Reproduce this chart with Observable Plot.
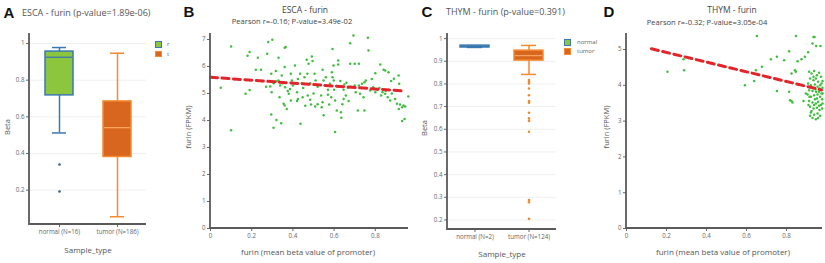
<!DOCTYPE html>
<html><head><meta charset="utf-8">
<script src="https://cdn.jsdelivr.net/npm/d3@7"></script>
<script src="https://cdn.jsdelivr.net/npm/@observablehq/plot@0.6"></script>
<style>
body{margin:0;background:#fff;}
#wrap{position:relative;width:825px;height:263px;overflow:hidden;font-family:"Open Sans",sans-serif;background:#fff;}
#wrap svg{position:absolute;top:0;}
.t{position:absolute;white-space:nowrap;line-height:1;color:#444;}
.sq{position:absolute;box-sizing:border-box;}
</style></head><body><div id="wrap"></div>
<script>
// ---------- Panel A: ESCA box plot ----------
const catsA = ["normal (N=16)", "tumor (N=186)"];
const q1A  = [0.717, 0.381];
const medA = [0.925, 0.541];
const q3A  = [0.956, 0.684];
const loA  = [0.512, 0.055];
const hiA  = [0.978, 0.947];
const outNormalA = [0.34, 0.193];
const outTumorA = [];
const ticksA = [0.2, 0.4, 0.6, 0.8, 1];

// ---------- Panel C: THYM box plot ----------
const catsC = ["normal (N=2)", "tumor (N=124)"];
const q1C  = [0.961, 0.903];
const medC = [0.965, 0.925];
const q3C  = [0.969, 0.947];
const loC  = [0.961, 0.842];
const hiC  = [0.969, 0.970];
const outNormalC = [];
const outTumorC = [0.817, 0.81, 0.802, 0.78, 0.75, 0.725, 0.717, 0.673, 0.648, 0.637, 0.589, 0.288, 0.278, 0.205];
const ticksC = [0.2, 0.3, 0.4, 0.5, 0.6, 0.7, 0.8, 0.9, 1];

// ---------- Panel B: ESCA scatter ----------
const bx = [0.10,0.05,0.17,0.19,0.18,0.19,0.10,0.23,0.22,0.245,0.28,0.30,0.275,0.33,0.36,0.365,0.295,0.317,0.307,0.29,0.297,0.33,0.338,0.35,0.36,0.346,0.362,0.375,0.38,0.386,0.335,0.355,0.37,0.36,0.295,0.32,0.343,0.306,0.39,0.395,
0.41,0.414,0.424,0.435,0.443,0.456,0.467,0.476,0.492,0.495,0.47,0.484,0.505,0.51,0.424,0.447,0.42,0.472,0.484,0.488,0.508,0.437,0.39,0.544,0.549,0.553,0.537,0.544,0.54,0.549,
0.592,0.589,0.597,0.592,0.598,0.58,0.57,0.60,0.586,0.605,0.613,0.576,0.62,0.62,0.63,0.635,0.646,0.65,0.667,0.657,0.646,0.67,0.635,0.605,0.678,0.678,0.70,0.72,0.70,0.705,
0.735,0.747,0.754,0.726,0.743,0.715,0.747,0.764,0.767,0.694,0.783,0.79,0.775,0.80,0.797,0.81,0.824,0.84,0.848,0.864,0.835,0.848,0.86,0.872,0.828,0.877,0.896,0.913,0.916,0.92,
0.93,0.937,0.945,0.96,0.942,0.93,0.905,0.633,0.914,0.32,0.40,0.45,0.52,0.56,0.61,0.66,0.68,0.72,0.76,0.80,0.82,0.85,0.88,0.25,0.27,0.42,0.50,0.57,0.64,0.52,0.46,0.89];
const by = [6.74,5.21,4.99,5.13,6.40,6.54,3.64,6.32,5.88,5.88,6.91,6.99,6.47,6.32,6.69,6.72,5.73,5.83,5.38,5.26,5.05,5.48,5.30,5.38,5.98,5.67,5.23,5.09,4.99,5.17,4.86,4.62,4.43,4.56,4.22,4.02,3.90,3.73,5.73,5.48,
6.04,5.36,5.54,5.73,5.38,5.60,6.25,6.10,6.37,6.20,5.73,5.38,5.73,5.48,4.80,4.86,4.72,4.93,4.77,4.59,4.52,3.88,4.74,5.88,5.48,5.30,4.93,4.68,4.49,4.19,
6.65,5.79,6.04,5.60,5.48,5.36,5.14,5.14,4.86,4.74,4.37,4.59,6.22,6.07,5.46,5.26,5.14,5.33,5.21,4.93,4.80,4.72,4.10,3.57,6.86,6.10,6.10,6.10,5.30,5.05,
5.36,5.42,5.48,4.99,4.86,4.37,4.37,7.06,6.59,7.15,5.54,5.23,5.11,5.75,5.17,5.14,6.07,5.88,5.85,5.79,5.05,4.99,4.86,4.74,4.93,5.46,4.80,5.67,5.36,4.59,
4.49,4.56,4.52,4.89,4.06,3.98,4.62,4.31,4.43,5.45,5.30,5.20,5.25,5.60,5.28,5.40,5.25,5.30,5.20,5.05,5.20,5.10,5.00,5.45,5.25,5.05,5.00,4.95,4.60,4.60,4.55,5.55];
const regBx = [0, 0.945];
const regBy = [5.60, 5.09];

// ---------- Panel D: THYM scatter ----------
const dx = [0.205,0.285,0.288,0.652,0.847,0.935,0.94,0.93,0.948,0.97,0.813,0.722,0.752,0.788,0.677,0.647,0.638,0.592,0.855,0.875,0.892,0.908,0.825,0.842,0.847,0.752,0.813,0.818,0.83,0.825,0.885,0.897,
0.913,0.925,0.938,0.952,0.963,0.972,0.918,0.935,0.947,0.958,0.98,0.908,0.922,0.942,0.955,0.968,0.98,0.913,0.93,0.945,0.962,0.975,0.905,0.922,0.938,0.952,0.968,0.978,
0.913,0.93,0.947,0.958,0.972,0.918,0.935,0.952,0.965,0.978,0.922,0.938,0.955,0.968,0.93,0.947,0.918,0.958,0.938,0.927,0.965,0.955,0.942,0.91,0.98,0.935,0.975,0.948,0.925,0.963,0.98,0.915];
const dy = [4.38,4.73,4.42,5.38,5.38,5.35,5.35,5.17,5.10,5.10,4.95,4.73,4.80,4.70,4.52,4.42,4.12,4.00,4.67,4.73,4.80,4.92,4.33,4.42,4.38,3.84,3.82,3.58,3.52,3.56,3.56,3.77,
4.38,4.33,4.40,4.28,4.35,4.24,4.19,4.14,4.19,4.10,4.12,4.05,4.00,4.02,3.96,4.00,3.93,3.86,3.84,3.89,3.82,3.77,3.74,3.68,3.72,3.63,3.68,3.61,
3.56,3.52,3.49,3.54,3.45,3.40,3.35,3.37,3.31,3.35,3.24,3.18,3.21,3.15,3.09,3.05,3.15,3.09,3.45,3.93,3.91,3.74,3.61,3.45,3.49,4.24,4.05,3.82,3.28,3.43,3.77,3.68];
const regDx = [0.125, 0.975];
const regDy = [5.02, 3.87];

// ---------- styles ----------
const NORMAL = {fill: "#8cc63e", stroke: "#3a78b2", med: "#3a78b2", out: "#2f5f8e"};
const TUMOR  = {fill: "#d9661f", stroke: "#f58a2e", med: "#f7a35c", out: "#ef8a2c"};
const AXIS = "#5a5a5a";
const baseStyle = {fontFamily: "'Open Sans', sans-serif", fontSize: "6.2px", color: "#666", background: "transparent", overflow: "visible"};

const axisLines = (...args) => {
  const dims = args.find(a => a && typeof a === "object" && !ArrayBuffer.isView(a) && "marginLeft" in a && "width" in a);
  const {marginLeft: l, marginTop: t, marginRight: r, marginBottom: b, width: w, height: h} = dims;
  const p = document.createElementNS("http://www.w3.org/2000/svg", "path");
  p.setAttribute("d", `M${l},${t}V${h - b}H${w - r}`);
  p.setAttribute("fill", "none");
  p.setAttribute("stroke", AXIS);
  p.setAttribute("stroke-width", 1.8);
  return p;
};

function boxPanel(cfg) {
  const rows = cfg.cats.map((c, i) => ({cat: c, q1: cfg.q1[i], med: cfg.med[i], q3: cfg.q3[i], lo: cfg.lo[i], hi: cfg.hi[i], sty: i === 0 ? NORMAL : TUMOR}));
  const outs = cfg.outN.map(v => ({cat: cfg.cats[0], v, c: NORMAL.out})).concat(cfg.outT.map(v => ({cat: cfg.cats[1], v, c: TUMOR.out})));
  const svg = Plot.plot({
    width: cfg.width, height: 263,
    marginLeft: cfg.mL, marginRight: cfg.mR, marginTop: cfg.mT, marginBottom: cfg.mB,
    style: baseStyle,
    color: {type: "identity"},
    x: {type: "band", domain: cfg.cats, paddingInner: cfg.pi, paddingOuter: cfg.po, tickSize: 3, tickPadding: 2, label: null},
    y: {domain: cfg.ydom, ticks: cfg.ticks, tickFormat: d => String(d), grid: true, tickSize: 3, tickPadding: 2, label: null},
    marks: [
      Plot.ruleX(rows, {x: "cat", y1: "lo", y2: "hi", stroke: d => d.sty.stroke, strokeWidth: 1.5}),
      Plot.tickY(rows, {x: "cat", y: "lo", stroke: d => d.sty.stroke, strokeWidth: 1.5, inset: 7}),
      Plot.tickY(rows, {x: "cat", y: "hi", stroke: d => d.sty.stroke, strokeWidth: 1.5, inset: 7}),
      Plot.barY(rows, {x: "cat", y1: "q1", y2: "q3", fill: d => d.sty.fill, stroke: d => d.sty.stroke, strokeWidth: 1.5}),
      Plot.tickY(rows, {x: "cat", y: "med", stroke: d => d.sty.med, strokeWidth: 1.3, inset: 0.8}),
      Plot.dot(outs, {x: "cat", y: "v", r: 1.3, fill: "c", stroke: null}),
      axisLines
    ]
  });
  svg.style.left = cfg.left + "px";
  return svg;
}

function scatterPanel(cfg) {
  const pts = cfg.xs.map((x, i) => ({x, y: cfg.ys[i]}));
  const reg = cfg.rx.map((x, i) => ({x, y: cfg.ry[i]}));
  const svg = Plot.plot({
    width: cfg.width, height: 263,
    marginLeft: cfg.mL, marginRight: cfg.mR, marginTop: cfg.mT, marginBottom: cfg.mB,
    style: baseStyle,
    x: {domain: cfg.xdom, ticks: [0, 0.2, 0.4, 0.6, 0.8], tickFormat: d => String(d), tickSize: 3, tickPadding: 2, label: null},
    y: {domain: cfg.ydom, ticks: cfg.yticks, tickFormat: d => String(d), tickSize: 3, tickPadding: 2, label: null},
    marks: [
      Plot.dot(pts, {x: "x", y: "y", r: 1.25, fill: "#3dbf3d", stroke: null}),
      Plot.line(reg, {x: "x", y: "y", stroke: "#e2252b", strokeWidth: 3, strokeDasharray: "7,4.5"}),
      axisLines
    ]
  });
  svg.style.left = cfg.left + "px";
  return svg;
}

const wrap = document.getElementById("wrap");

wrap.appendChild(boxPanel({cats: catsA, q1: q1A, med: medA, q3: q3A, lo: loA, hi: hiA, outN: outNormalA, outT: outTumorA,
  ticks: ticksA, ydom: [0.0126, 1.0546], left: 0, width: 150, mL: 29, mR: 4, mT: 33, mB: 39, pi: 0.52, po: 0.26}));

wrap.appendChild(scatterPanel({xs: bx, ys: by, rx: regBx, ry: regBy, xdom: [0, 0.961], ydom: [0, 7.222], yticks: [0,1,2,3,4,5,6,7],
  left: 180, width: 232, mL: 30, mR: 4, mT: 33, mB: 35}));

wrap.appendChild(boxPanel({cats: catsC, q1: q1C, med: medC, q3: q3C, lo: loC, hi: hiC, outN: outNormalC, outT: outTumorC,
  ticks: ticksC, ydom: [0.158, 1.0225], left: 420, width: 140, mL: 27, mR: 4, mT: 33, mB: 34, pi: 0.47, po: 0.226}));

wrap.appendChild(scatterPanel({xs: dx, ys: dy, rx: regDx, ry: regDy, xdom: [0, 0.98], ydom: [0, 5.447], yticks: [0,1,2,3,4,5],
  left: 596, width: 229, mL: 30, mR: 3, mT: 33, mB: 35}));

// ---------- text ----------
function lab(text, x, y, o = {}) {
  const d = document.createElement("div");
  d.className = "t";
  d.textContent = text;
  d.style.left = x + "px";
  d.style.top = y + "px";
  d.style.fontSize = (o.size || 8) + "px";
  if (o.color) d.style.color = o.color;
  if (o.weight) d.style.fontWeight = o.weight;
  if (o.family) d.style.fontFamily = o.family;
  const ax = o.anchor === "start" ? "0" : "-50%";
  d.style.transform = `translate(${ax},-50%)` + (o.rotate ? " rotate(-90deg)" : "");
  wrap.appendChild(d);
}
const LET = {size: 15, weight: "bold", color: "#111", family: "'Liberation Sans', Arial, sans-serif"};
lab("A", 9, 12, LET);
lab("B", 189, 11, LET);
lab("C", 427, 11, LET);
lab("D", 609, 11, LET);

lab("ESCA - furin (p-value=1.89e-06)", 22, 12, {size: 9, anchor: "start", color: "#555"});
lab("THYM - furin (p-value=0.391)", 446, 11, {size: 9, anchor: "start", color: "#555"});
lab("ESCA - furin", 305, 10, {size: 8.5, color: "#444"});
lab("Pearson r=-0.16; P-value=3.49e-02", 292, 22, {size: 7.6, color: "#444"});
lab("THYM - furin", 732, 10, {size: 8.5, color: "#444"});
lab("Pearson r=-0.32; P-value=3.05e-04", 707, 23, {size: 7.6, color: "#444"});

lab("Beta", 8, 127, {size: 7.5, rotate: true, color: "#555"});
lab("Beta", 425, 128, {size: 7.5, rotate: true, color: "#555"});
lab("furin (FPKM)", 189, 127, {size: 7.5, rotate: true, color: "#555"});
lab("furin (FPKM)", 607, 127, {size: 7.5, rotate: true, color: "#555"});
lab("Sample_type", 88, 250, {size: 8, color: "#555"});
lab("Sample_type", 502, 254, {size: 8, color: "#555"});
lab("furin (mean beta value of promoter)", 308, 252, {size: 8, color: "#555"});
lab("furin (mean beta value of promoter)", 723, 252, {size: 8, color: "#555"});

// legends
function sq(x, y, s, fill, stroke) {
  const d = document.createElement("div");
  d.className = "sq";
  Object.assign(d.style, {left: x + "px", top: y + "px", width: s + "px", height: s + "px", background: fill, border: `1.3px solid ${stroke}`});
  wrap.appendChild(d);
}
sq(155, 41, 6.5, NORMAL.fill, NORMAL.stroke);
sq(155, 50.5, 6.5, TUMOR.fill, TUMOR.stroke);
lab("r", 167, 44, {size: 6, anchor: "start", color: "#666"});
lab("t", 167, 53.5, {size: 6, anchor: "start", color: "#666"});
sq(564, 39, 6.5, NORMAL.fill, NORMAL.stroke);
sq(564, 48, 6.5, TUMOR.fill, TUMOR.stroke);
lab("normal", 577, 42, {size: 6, anchor: "start", color: "#666"});
lab("tumor", 577, 51, {size: 6, anchor: "start", color: "#666"});
</script></body></html>
